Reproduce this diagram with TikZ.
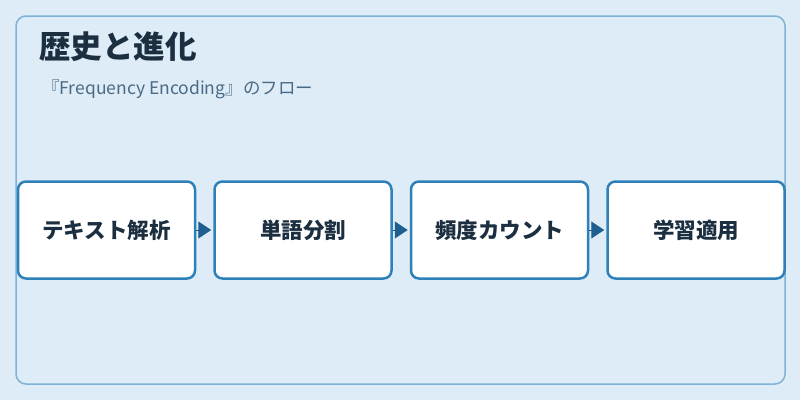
\documentclass[tikz,border=0pt]{standalone}
\usepackage{fontspec}
\setmainfont{Noto Sans CJK JP}
\usepackage{tikz}
\usetikzlibrary{calc, positioning, arrows.meta}

\definecolor{pagebg}{HTML}{DDECF7}
\definecolor{frameline}{HTML}{7FB2D6}
\definecolor{boxline}{HTML}{2E80B9}
\definecolor{arrowcol}{HTML}{1F5F8F}
\definecolor{titletext}{HTML}{1B2F40}
\definecolor{subtext}{HTML}{4A6A85}

\tikzset{
    stagebox/.style={draw=boxline, fill=white, line width=2.5pt, rounded corners=8pt,
        minimum width=177pt, minimum height=97pt, inner sep=0pt,
        font=\fontsize{21.5}{24}\selectfont\bfseries, text=titletext},
    flow/.style={draw=arrowcol, line width=1pt, shorten >=2pt,
        -{Triangle[length=13pt, width=17pt, fill=arrowcol]}}
}

\begin{document}
\begin{tikzpicture}[x=1pt, y=1pt]
            \fill[pagebg] (0, 0) rectangle (800, -400);
            \useasboundingbox (0, 0) rectangle (800, -400);
            \draw[frameline, line width=1.5pt, rounded corners=10pt] (16, -16) rectangle (785, -384);
            \node[anchor=west, inner sep=0pt, text=titletext, font=\fontsize{31.5}{36}\selectfont\bfseries] (title) at (39, -47) {歴史と進化};
            \node[anchor=west, inner sep=0pt, text=subtext, font=\fontsize{17.5}{21}\selectfont] (subtitle) at (42, -89) {『Frequency Encoding』のフロー};
            \node[stagebox] (parse) at (106.5, -230) {テキスト解析};
            \node[stagebox, right=17pt of parse] (split) {単語分割};
            \node[stagebox, right=17pt of split] (count) {頻度カウント};
            \node[stagebox, right=17pt of count] (learn) {学習適用};
            \draw[flow] (parse) -- (split);
            \draw[flow] (split) -- (count);
            \draw[flow] (count) -- (learn);
        \end{tikzpicture}
\end{document}
